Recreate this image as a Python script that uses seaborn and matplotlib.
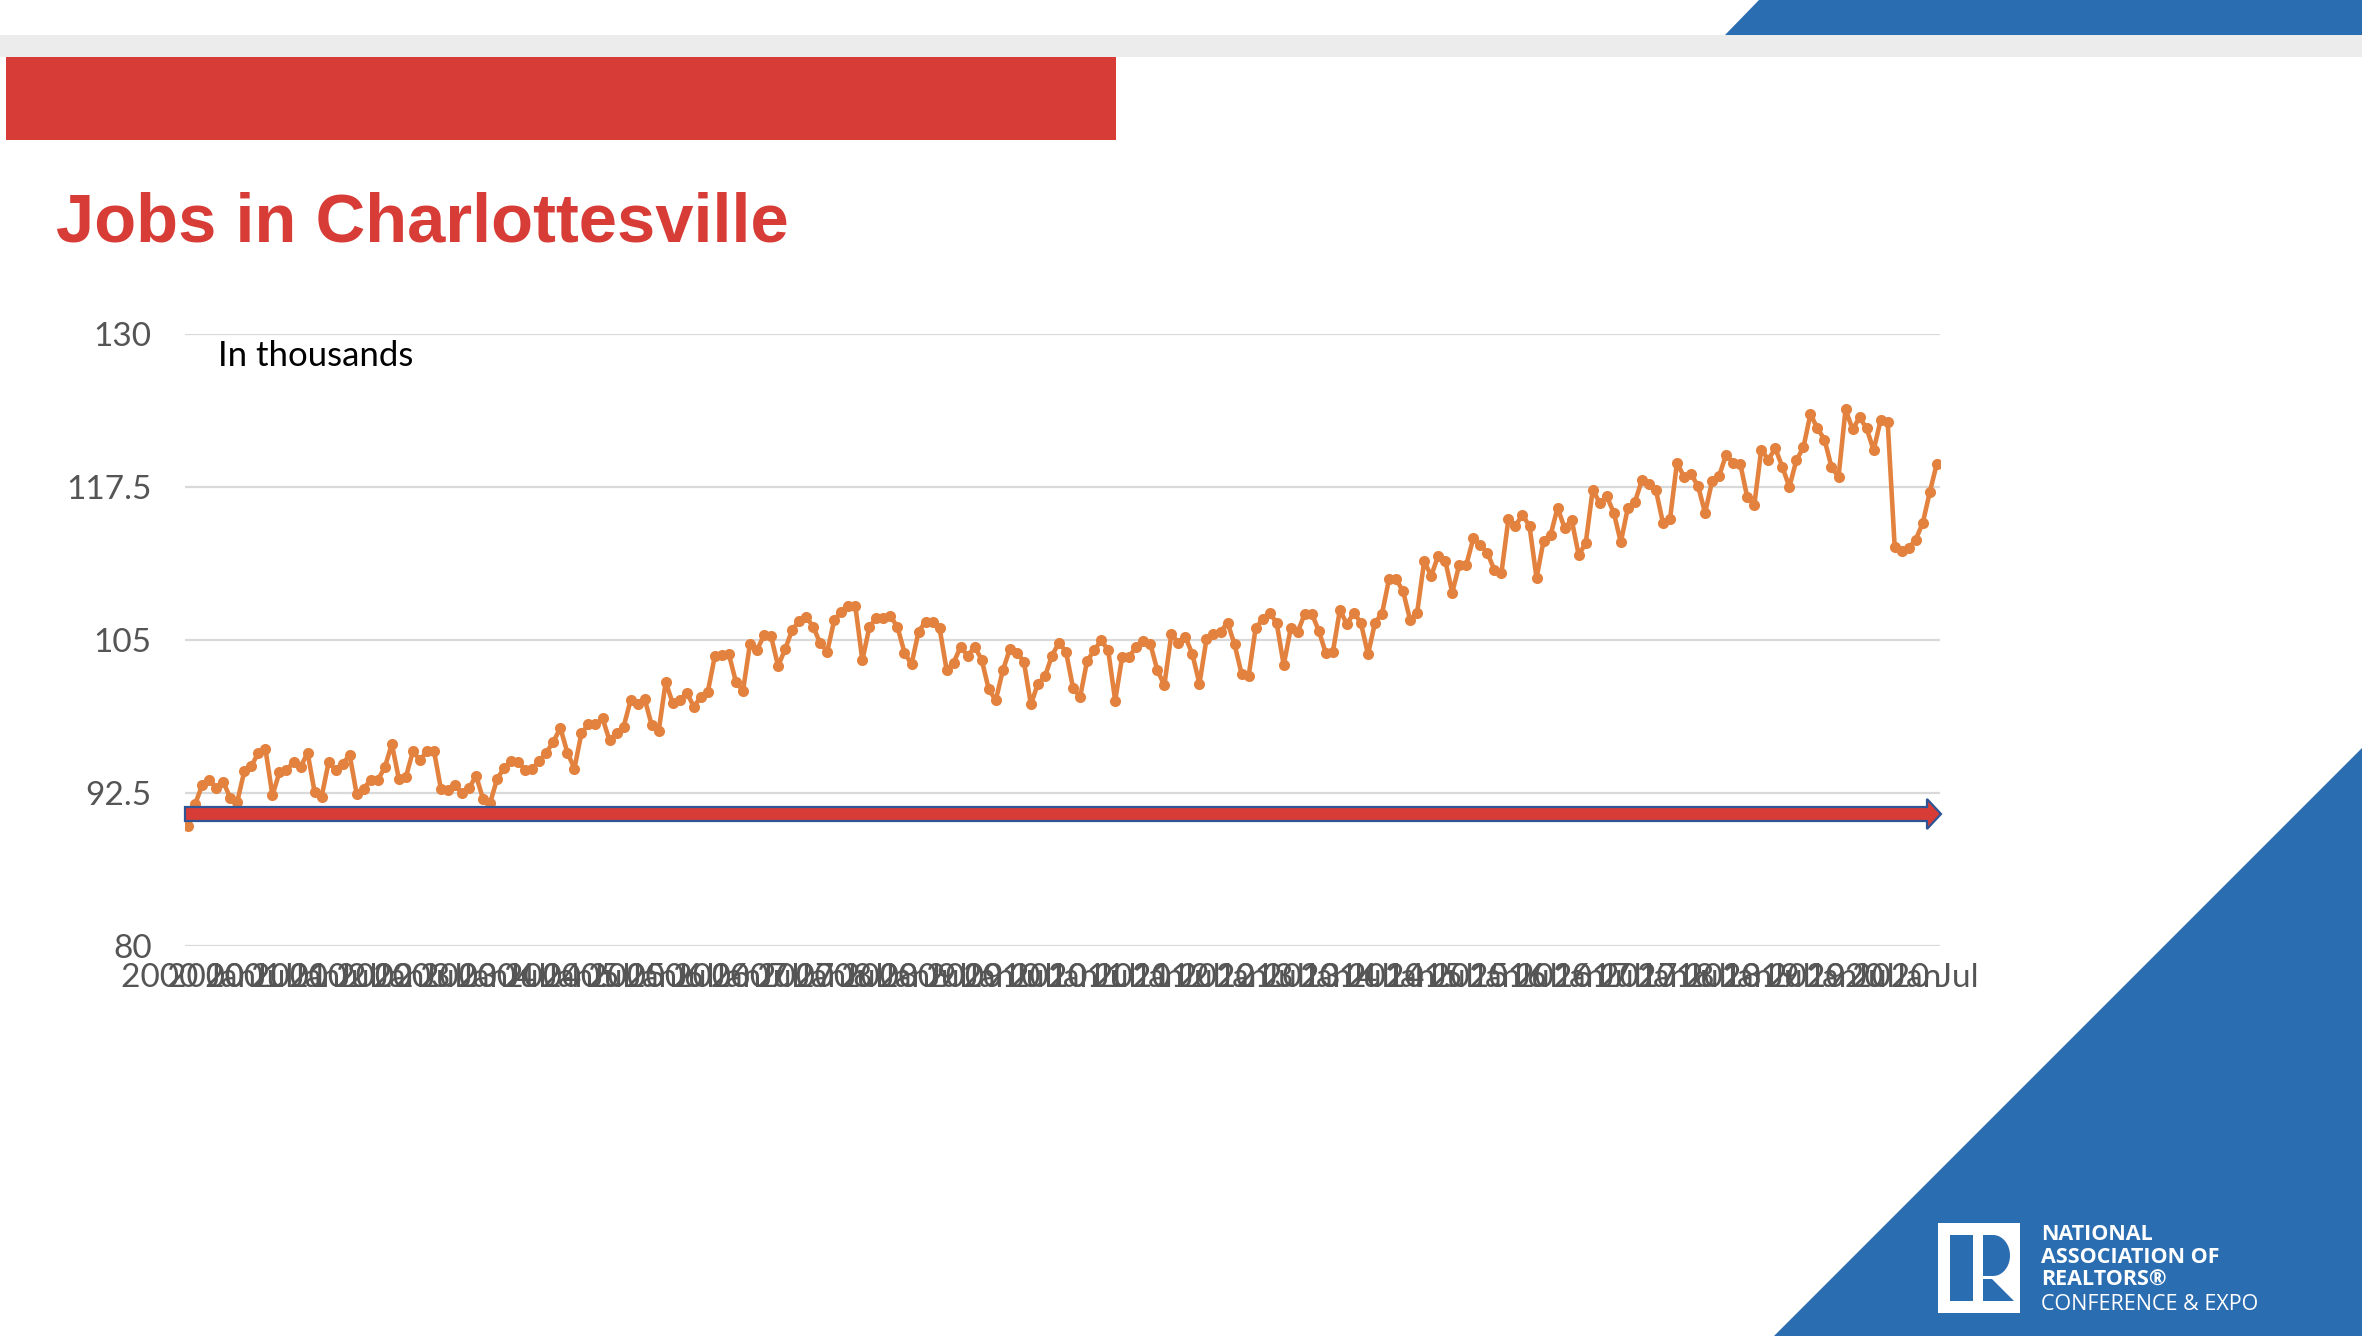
import numpy as np
import pandas as pd
import seaborn as sns
import matplotlib.pyplot as plt
from matplotlib.patches import Polygon

# monthly jobs, Charlottesville, Jan 2000 .. Oct 2020 (thousands)
jobs = [
    89.8, 91.6, 93.15, 93.6, 92.9, 93.4, 92.1, 91.8, 94.3, 94.7, 95.8, 96.1,
    92.3, 94.2, 94.4, 95.0, 94.6, 95.8, 92.6, 92.2, 95.0, 94.4, 94.9, 95.6,
    92.4, 92.85, 93.6, 93.55, 94.6, 96.5, 93.66, 93.8, 95.9, 95.2, 95.9, 95.95,
    92.8, 92.74, 93.15, 92.5, 92.9, 93.9, 92.0, 91.7, 93.66, 94.55, 95.1, 95.0,
    94.4, 94.5, 95.1, 95.8, 96.7, 97.8, 95.8, 94.5, 97.4, 98.1, 98.1, 98.6,
    96.8, 97.4, 97.9, 100.07, 99.74, 100.2, 98.05, 97.57, 101.57, 99.83, 100.07, 100.7,
    99.55, 100.34, 100.78, 103.7, 103.77, 103.83, 101.57, 100.83, 104.7, 104.18, 105.4, 105.3,
    102.88, 104.24, 105.82, 106.55, 106.88, 106.09, 104.73, 104.05, 106.63, 107.31, 107.78, 107.78,
    103.34, 106.06, 106.82, 106.82, 106.96, 106.06, 103.97, 103.01, 105.68, 106.5, 106.5, 105.95,
    102.55, 103.15, 104.46, 103.69, 104.46, 103.37, 100.97, 100.07, 102.52, 104.24, 103.97, 103.23,
    99.74, 101.44, 102.02, 103.73, 104.78, 104.04, 101.09, 100.32, 103.28, 104.15, 104.97, 104.18,
    100.05, 103.63, 103.63, 104.45, 104.92, 104.7, 102.54, 101.31, 105.46, 104.78, 105.27, 103.82,
    101.44, 105.05, 105.52, 105.66, 106.42, 104.64, 102.24, 102.05, 105.96, 106.7, 107.24, 106.37,
    102.95, 105.96, 105.66, 107.16, 107.16, 105.74, 103.91, 104.02, 107.46, 106.29, 107.24, 106.37,
    103.82, 106.42, 107.16, 109.98, 109.98, 108.97, 106.64, 107.24, 111.43, 110.25, 111.89, 111.48,
    108.88, 111.15, 111.15, 113.31, 112.8, 112.11, 110.72, 110.47, 114.9, 114.35, 115.23, 114.3,
    110.06, 113.12, 113.59, 115.8, 114.14, 114.82, 111.95, 112.9, 117.28, 116.19, 116.73, 115.4,
    112.99, 115.8, 116.27, 118.05, 117.77, 117.23, 114.57, 114.85, 119.5, 118.32, 118.54, 117.58,
    115.37, 117.99, 118.4, 120.15, 119.47, 119.41, 116.68, 116.0, 120.56, 119.74, 120.65, 119.14,
    117.5, 119.69, 120.73, 123.46, 122.29, 121.38, 119.14, 118.32, 123.85, 122.2, 123.19, 122.29,
    120.51, 122.97, 122.83, 112.58, 112.3, 112.52, 113.21, 114.57, 117.09, 119.41,
]
months = list(range(len(jobs)))
tick_pos = list(range(0, len(jobs), 6))
tick_labels = [f"{2000 + m // 12} {'Jan' if m % 12 == 0 else 'Jul'}" for m in tick_pos]
y_ticks = [80, 92.5, 105, 117.5, 130]
y_labels = ["80", "92.5", "105", "117.5", "130"]

RED = "#D83C37"
BLUE = "#2B6DB1"
ORANGE = "#E3823F"
W, H = 2362, 1336

sns.set_style("white")
plt.rcParams["font.family"] = ["Lato", "DejaVu Sans"]

def fp(x, y):
    return (x / W, 1 - y / H)

def shape(pts, color, **kw):
    fig.patches.append(Polygon([fp(*p) for p in pts], closed=True, facecolor=color,
                               transform=fig.transFigure, **kw))

fig = plt.figure(figsize=(W / 100, H / 100), dpi=100)
fig.patch.set_facecolor("white")

# slide decoration
shape([(0, 35), (W, 35), (W, 57), (0, 57)], "#ECECEC", edgecolor="none")
shape([(6, 57), (1116, 57), (1116, 140), (6, 140)], RED, edgecolor="none")
shape([(1725, 35), (1759, 0), (W, 0), (W, 35)], BLUE, edgecolor="none")
shape([(1774, H), (W, 748), (W, H)], BLUE, edgecolor="none")

# logo
shape([(1938, 1223), (2020, 1223), (2020, 1313), (1938, 1313)], "white", edgecolor="none")
shape([(1950, 1235), (1973, 1235), (1973, 1301), (1950, 1301)], BLUE, edgecolor="none")
t = np.linspace(-np.pi / 2, np.pi / 2, 30)
bowl = [(1983, 1276), (1983, 1235), (1993, 1235)] + \
       [(1993 + 17 * np.cos(a), 1255.5 - 20.5 * np.sin(a)) for a in t[::-1]][1:-1] + [(1993, 1276)]
shape(bowl, BLUE, edgecolor="none")
shape([(1983, 1279), (1992, 1279), (2014, 1301), (1983, 1301)], BLUE, edgecolor="none")
for txt, yb, wt in [("NATIONAL", 1240, "bold"), ("ASSOCIATION OF", 1263, "bold"),
                    ("REALTORS®", 1286, "bold"), ("CONFERENCE & EXPO", 1310, "normal")]:
    fig.text(*fp(2041, yb), txt, color="white", fontsize=15.5, fontweight=wt,
             family="Open Sans", va="baseline", ha="left")

fig.text(*fp(56, 242), "Jobs in Charlottesville", fontsize=49.5, fontweight="bold",
         color=RED, family="Liberation Sans", va="baseline", ha="left")

# chart
ax = fig.add_axes([185 / W, 1 - 946 / H, (1940 - 185) / W, (946 - 334) / H])
df = pd.DataFrame({"month": months, "jobs": jobs})
sns.lineplot(data=df, x="month", y="jobs", ax=ax, color=ORANGE, linewidth=3.3,
             marker="o", markersize=8, markeredgewidth=0, zorder=3)

ax.set_xlim(-0.45, len(jobs) - 1 + 0.45)
ax.set_ylim(80, 130)
ax.set_yticks(y_ticks)
ax.set_yticklabels(y_labels)
ax.set_xticks(tick_pos)
ax.set_xticklabels(tick_labels)
ax.tick_params(axis="y", length=0, pad=24, labelsize=24, labelcolor="#555555")
ax.tick_params(axis="x", length=0, pad=12, labelsize=24, labelcolor="#555555")
ax.set_xlabel("")
ax.set_ylabel("")
ax.yaxis.grid(True, color="#D9D9D9", linewidth=1.6)
ax.xaxis.grid(False)
ax.set_axisbelow(True)
for s in ax.spines.values():
    s.set_visible(False)

fig.text(*fp(218, 366), "In thousands", fontsize=25, color="black", va="baseline", ha="left")

# arrow drawn over the chart
shape([(185, 807), (1927, 807), (1927, 799), (1941, 814), (1927, 829), (1927, 821), (185, 821)],
      RED, edgecolor="#2F5597", linewidth=1.6, zorder=5)

fig.savefig("out.png", dpi=100, facecolor="white")
